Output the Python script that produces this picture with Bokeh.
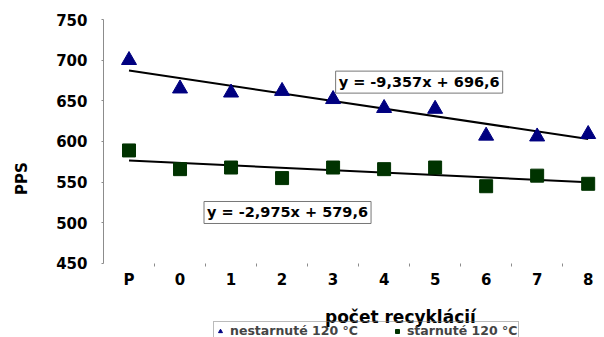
from bokeh.plotting import figure
from bokeh.models import Range1d, FixedTicker, Label, Legend, LegendItem, LinearAxis
from bokeh.embed import file_html
from bokeh.resources import INLINE

categories = ["P", "0", "1", "2", "3", "4", "5", "6", "7", "8"]
nestarnute = [700, 665, 660, 662, 652, 641, 640, 607, 606, 609]
starnute = [589, 566, 568, 555, 568, 566, 568, 545, 558, 548]
trend_n = (-9.357, 696.6)
trend_s = (-2.975, 579.6)
eq_n = "y = -9,357x + 696,6"
eq_s = "y = -2,975x + 579,6"
y_ticks = [450, 500, 550, 600, 650, 700, 750]
y_min, y_max = 450, 750

xs = list(range(1, len(categories) + 1))
FONT = "DejaVu Sans"

# frame runs to the bottom of the canvas so that the axis title and legend fit inside it;
# the value axis is bounded to 450..750 and the category axis is pinned at 450
p = figure(width=604, height=337, output_backend="svg", toolbar_location=None,
           x_range=Range1d(0.5, 10.32), y_range=Range1d(359, 750),
           min_border_left=103, min_border_top=19, min_border_bottom=0, min_border_right=0,
           x_axis_location=None, y_axis_location=None)
p.outline_line_color = None
p.grid.visible = False
p.background_fill_color = "white"

# y axis
yax = LinearAxis(ticker=FixedTicker(ticks=y_ticks), bounds=(y_min, y_max))
yax.axis_line_color = "#8c8c8c"
yax.major_tick_line_color = "#8c8c8c"
yax.major_tick_out = 2
yax.major_tick_in = 0
yax.minor_tick_line_color = None
yax.major_label_standoff = 14
yax.major_label_text_font = FONT
yax.major_label_text_font_style = "bold"
yax.major_label_text_font_size = "15px"
yax.major_label_text_color = "black"
yax.axis_label = "PPS"
yax.axis_label_text_font = FONT
yax.axis_label_text_font_style = "bold"
yax.axis_label_text_font_size = "15px"
yax.axis_label_text_color = "black"
yax.axis_label_standoff = 22
p.add_layout(yax, "left")

# x axis
xax = LinearAxis(ticker=FixedTicker(ticks=xs, minor_ticks=[x + 0.5 for x in xs[:-1]]),
                 fixed_location=y_min)
xax.axis_line_color = None
xax.major_tick_line_color = None
xax.major_tick_out = 0
xax.minor_tick_line_color = "#8c8c8c"
xax.minor_tick_in = 0
xax.minor_tick_out = 3
xax.major_label_overrides = {x: c for x, c in zip(xs, categories)}
xax.major_label_standoff = 5
xax.major_label_text_font = FONT
xax.major_label_text_font_style = "bold"
xax.major_label_text_font_size = "15px"
xax.major_label_text_color = "black"
p.add_layout(xax, "below")

# trend lines
x0, x1 = xs[0], xs[-1]
p.line([x0, x1], [trend_n[0] * x0 + trend_n[1], trend_n[0] * x1 + trend_n[1]], line_color="black", line_width=2)
p.line([x0, x1], [trend_s[0] * x0 + trend_s[1], trend_s[0] * x1 + trend_s[1]], line_color="black", line_width=2)

r1 = p.scatter(xs, nestarnute, marker="triangle", size=15, fill_color="#000080", line_color="#000080")
r2 = p.scatter(xs, starnute, marker="square", size=13, fill_color="#003300", line_color="#003300")

for txt, xx, yy in [(eq_n, 5.05, 673), (eq_s, 2.47, 512.7)]:
    p.add_layout(Label(x=xx, y=yy, text=txt, text_font=FONT, text_font_style="bold",
                       text_font_size="14.5px", text_baseline="middle", text_color="black",
                       border_line_color="#777777", border_line_width=1,
                       background_fill_color="white", padding=3))

p.add_layout(Label(x=6.32, y=384, text="počet recyklácií", text_font=FONT, text_font_style="bold",
                   text_font_size="17px", text_align="center", text_baseline="alphabetic",
                   text_color="black"))

legend = Legend(items=[LegendItem(label="nestarnuté 120 °C", renderers=[r1]),
                       LegendItem(label="starnuté 120 °C", renderers=[r2])],
                orientation="horizontal", location=(110, -3),
                label_text_font=FONT, label_text_font_size="12.5px", label_text_font_style="bold",
                glyph_width=10, glyph_height=10, label_standoff=5, spacing=34,
                padding=1, margin=0, label_height=10,
                border_line_color="#777777", background_fill_alpha=0)
p.add_layout(legend, "center")

open("out.html", "w").write(file_html(p, INLINE))
